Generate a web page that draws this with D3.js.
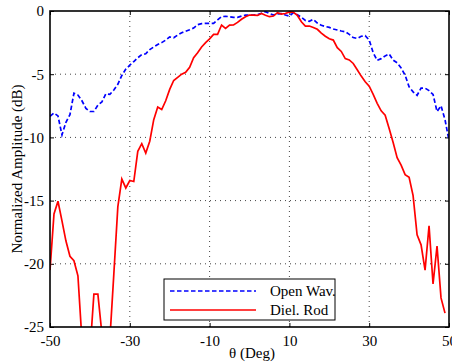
<!DOCTYPE html>
<html><head><meta charset="utf-8">
<script src="https://cdn.jsdelivr.net/npm/d3@7"></script>
<style>body{margin:0;background:#fff}svg{display:block}svg text{font-family:"Liberation Serif","Times New Roman",Times,serif}</style>
</head><body>
<svg id="c" width="452" height="364"></svg>
<script>
const theta = d3.range(-50, 51, 1);
const openWav = [-8.33,-8.07,-8.3,-9.8,-8.8,-8.2,-6.5,-6.65,-7.1,-7.7,-7.95,-7.95,-7.45,-7.2,-6.55,-6.6,-6.25,-5.8,-5.1,-4.6,-4.29,-4.0,-3.7,-3.45,-3.38,-3.05,-2.85,-2.65,-2.5,-2.3,-2.05,-2.12,-1.9,-1.72,-1.6,-1.48,-1.35,-1.08,-1.0,-0.98,-0.98,-0.98,-0.7,-0.45,-0.42,-0.45,-0.5,-0.5,-0.4,-0.32,-0.32,-0.32,-0.3,-0.18,-0.05,-0.2,-0.32,-0.22,-0.2,-0.32,-0.4,-0.13,-0.3,-0.5,-0.75,-0.82,-0.66,-0.95,-1.13,-1.22,-1.3,-1.42,-1.5,-1.58,-1.64,-1.85,-2.1,-2.17,-2.0,-1.95,-2.3,-3.3,-3.9,-3.77,-3.55,-3.4,-3.89,-4.1,-4.5,-5.08,-6.0,-6.4,-6.67,-6.1,-6.1,-6.3,-6.6,-7.95,-7.5,-8.6,-10.24];
const dielRod = [-20.5,-16.06,-15.05,-16.6,-18.2,-19.4,-19.76,-20.95,-26,-28,-27,-22.4,-22.4,-25.5,-28,-26,-20.8,-15.5,-13.3,-14.0,-13.41,-13.49,-11.1,-10.5,-11.24,-10.3,-8.6,-7.6,-7.8,-7.1,-6.2,-5.5,-5.25,-5.0,-4.85,-4.45,-3.7,-3.3,-2.85,-2.5,-2.2,-1.85,-1.85,-1.11,-1.38,-1.11,-1.1,-0.9,-0.65,-0.45,-0.32,-0.33,-0.35,-0.2,-0.33,-0.45,-0.4,-0.13,-0.24,-0.2,-0.07,-0.1,-0.35,-0.85,-1.19,-1.19,-1.3,-1.45,-1.75,-2.0,-2.2,-2.3,-2.9,-3.2,-3.77,-3.87,-4.15,-4.65,-5.15,-5.6,-5.95,-6.6,-7.3,-7.9,-8.25,-9.3,-10.4,-11.6,-12.2,-12.95,-13.15,-14.6,-17.7,-18.5,-20.5,-17.0,-21.6,-18.6,-22.7,-23.9];
const xTicks = [-50,-30,-10,10,30,50];
const yTicks = [0,-5,-10,-15,-20,-25];
const seriesNames = ["Open Wav.","Diel. Rod"];
const seriesColors = ["#0000ff","#ff0000"];

const L=50,R=449,T=11,B=327;
const x = d3.scaleLinear().domain([-50,50]).range([L,R]);
const y = d3.scaleLinear().domain([-25,0]).range([B,T]);
const svg = d3.select("#c");
const font = '"Liberation Serif","Times New Roman",Times,serif';
const fmt = d => String(d);

svg.append("defs").append("clipPath").attr("id","clip")
  .append("rect").attr("x",L).attr("y",T).attr("width",R-L).attr("height",B-T);

// grid
const g = svg.append("g");
g.selectAll(".gx").data(xTicks.slice(1,-1)).join("line")
  .attr("x1",d=>x(d)).attr("x2",d=>x(d)).attr("y1",T).attr("y2",B)
  .attr("stroke","#444").attr("stroke-width",1).attr("stroke-dasharray","1,4");
g.selectAll(".gy").data(yTicks.slice(1,-1)).join("line")
  .attr("y1",d=>y(d)).attr("y2",d=>y(d)).attr("x1",L).attr("x2",R)
  .attr("stroke","#444").attr("stroke-width",1).attr("stroke-dasharray","1,4");

// axes with inward ticks
const ax = svg.append("g").attr("transform",`translate(0,${B})`)
  .call(d3.axisBottom(x).tickValues(xTicks).tickFormat(fmt).tickSizeInner(-4).tickSizeOuter(0).tickPadding(8));
const axT = svg.append("g").attr("transform",`translate(0,${T})`)
  .call(d3.axisTop(x).tickValues(xTicks).tickSizeInner(-4).tickSizeOuter(0).tickFormat(""));
const ay = svg.append("g").attr("transform",`translate(${L},0)`)
  .call(d3.axisLeft(y).tickValues(yTicks).tickFormat(fmt).tickSizeInner(-4).tickSizeOuter(0).tickPadding(6));
const ayR = svg.append("g").attr("transform",`translate(${R},0)`)
  .call(d3.axisRight(y).tickValues(yTicks).tickSizeInner(-4).tickSizeOuter(0).tickFormat(""));
[ax,axT,ay,ayR].forEach(a=>{
  a.attr("font-family",null).attr("font-size",null);
  a.select(".domain").remove();
  a.selectAll("line").attr("stroke","#000");
  a.selectAll("text").style("font-family",font).style("font-size","15px").attr("fill","#000");
});

// lines
const line = d3.line().x((d,i)=>x(theta[i])).y(d=>y(d));
const plot = svg.append("g").attr("clip-path","url(#clip)");
plot.append("path").datum(openWav).attr("d",line).attr("fill","none")
  .attr("stroke",seriesColors[0]).attr("stroke-width",1.7).attr("stroke-dasharray","4.5,2.5");
plot.append("path").datum(dielRod).attr("d",line).attr("fill","none")
  .attr("stroke",seriesColors[1]).attr("stroke-width",1.7);

// frame
svg.append("rect").attr("x",L).attr("y",T).attr("width",R-L).attr("height",B-T)
  .attr("fill","none").attr("stroke","#000").attr("stroke-width",1.6);

// legend
const lg = svg.append("g");
lg.append("rect").attr("x",164).attr("y",279).attr("width",171).attr("height",41)
  .attr("fill","#fff").attr("stroke","#000").attr("stroke-width",1);
seriesNames.forEach((n,i)=>{
  const yy = 291 + i*19;
  lg.append("line").attr("x1",170).attr("x2",256).attr("y1",yy).attr("y2",yy)
    .attr("stroke",seriesColors[i]).attr("stroke-width",1.7)
    .attr("stroke-dasharray", i===0 ? "4.5,2.5" : null);
  lg.append("text").attr("x",270).attr("y",yy+5).text(n)
    .style("font-family",font).style("font-size","15px");
});

// axis labels
svg.append("text").attr("x",252).attr("y",358).attr("text-anchor","middle")
  .style("font-family",font).style("font-size","15px").text("θ (Deg)");
svg.append("text").attr("transform",`translate(22,${(T+B)/2}) rotate(-90)`)
  .attr("text-anchor","middle").style("font-family",font).style("font-size","15px")
  .text("Normalized Amplitude (dB)");
</script>
</body></html>
